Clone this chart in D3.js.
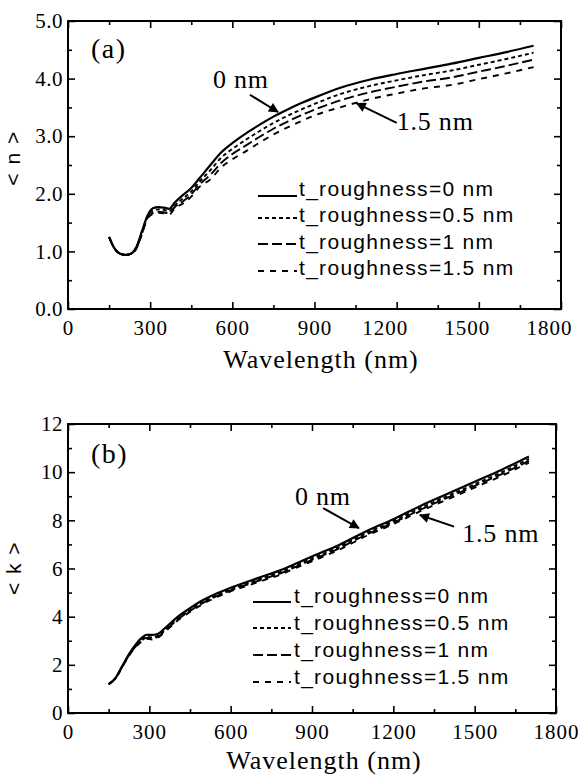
<!DOCTYPE html>
<html>
<head>
<meta charset="utf-8">
<script src="https://cdn.jsdelivr.net/npm/d3@7"></script>
<style>
  body { margin: 0; background: #fff; }
</style>
</head>
<body>
<script>
// data
var roughLabels = ["t_roughness=0 nm", "t_roughness=0.5 nm", "t_roughness=1 nm", "t_roughness=1.5 nm"];
var xTicks = [0, 300, 600, 900, 1200, 1500, 1800];
var nTicks = [0, 1, 2, 3, 4, 5];
var kTicks = [0, 2, 4, 6, 8, 10, 12];

// panel (a) : <n>
var wavelengthN = [150, 170, 190, 210, 230, 250, 270, 290, 310, 330, 350, 370, 390, 420, 450, 480, 520, 560, 600, 650, 700, 750, 800, 850, 900, 1000, 1100, 1200, 1300, 1400, 1500, 1600, 1700];
var nRough0  = [1.25, 1.05, 0.96, 0.94, 0.96, 1.08, 1.35, 1.62, 1.75, 1.77, 1.76, 1.74, 1.85, 1.98, 2.10, 2.27, 2.50, 2.72, 2.88, 3.05, 3.20, 3.34, 3.46, 3.57, 3.67, 3.85, 3.98, 4.08, 4.17, 4.26, 4.36, 4.46, 4.57];
var nRough05 = [1.25, 1.05, 0.96, 0.94, 0.96, 1.07, 1.33, 1.60, 1.71, 1.73, 1.72, 1.70, 1.80, 1.92, 2.04, 2.21, 2.41, 2.63, 2.78, 2.94, 3.09, 3.23, 3.35, 3.46, 3.56, 3.74, 3.87, 3.97, 4.06, 4.14, 4.24, 4.34, 4.45];
var nRough1  = [1.25, 1.05, 0.96, 0.94, 0.96, 1.06, 1.31, 1.58, 1.67, 1.69, 1.68, 1.66, 1.77, 1.87, 1.99, 2.16, 2.33, 2.54, 2.69, 2.84, 2.99, 3.13, 3.25, 3.36, 3.46, 3.63, 3.76, 3.86, 3.95, 4.02, 4.12, 4.22, 4.33];
var nRough15 = [1.25, 1.05, 0.96, 0.94, 0.96, 1.05, 1.30, 1.57, 1.65, 1.67, 1.66, 1.64, 1.75, 1.83, 1.95, 2.12, 2.25, 2.46, 2.60, 2.74, 2.89, 3.03, 3.15, 3.26, 3.36, 3.51, 3.64, 3.74, 3.83, 3.89, 3.99, 4.09, 4.20];

// panel (b) : <k>
var wavelengthK = [150, 175, 200, 225, 250, 275, 290, 310, 330, 360, 400, 450, 500, 550, 600, 700, 800, 850, 900, 1000, 1100, 1200, 1300, 1400, 1500, 1600, 1700];
var kRough0  = [1.20, 1.45, 1.95, 2.45, 2.85, 3.15, 3.25, 3.24, 3.28, 3.55, 3.95, 4.35, 4.70, 4.97, 5.20, 5.60, 6.00, 6.25, 6.50, 6.98, 7.55, 8.05, 8.60, 9.10, 9.60, 10.10, 10.65];
var kRough05 = [1.20, 1.45, 1.93, 2.42, 2.80, 3.08, 3.16, 3.14, 3.20, 3.48, 3.88, 4.28, 4.63, 4.90, 5.13, 5.53, 5.92, 6.17, 6.42, 6.90, 7.47, 7.97, 8.51, 9.01, 9.50, 10.00, 10.55];
var kRough1  = [1.20, 1.44, 1.92, 2.40, 2.77, 3.04, 3.12, 3.09, 3.16, 3.44, 3.84, 4.24, 4.58, 4.86, 5.09, 5.48, 5.87, 6.12, 6.36, 6.84, 7.41, 7.90, 8.44, 8.94, 9.43, 9.92, 10.47];
var kRough15 = [1.20, 1.43, 1.90, 2.38, 2.74, 3.00, 3.08, 3.05, 3.11, 3.40, 3.80, 4.20, 4.54, 4.82, 5.05, 5.43, 5.82, 6.07, 6.30, 6.78, 7.35, 7.84, 8.38, 8.87, 9.36, 9.85, 10.40];

var serif = "'Liberation Serif', 'Times New Roman', serif";
var sans = "'Liberation Sans', Arial, sans-serif";
var dashes = [null, "4,3", "10,4", "6,6"];

var svg = d3.select("body").append("svg")
    .attr("width", 581)
    .attr("height", 776);

svg.append("defs").append("marker")
    .attr("id", "head")
    .attr("viewBox", "0 0 10 10")
    .attr("refX", 9).attr("refY", 5)
    .attr("markerWidth", 6).attr("markerHeight", 5)
    .attr("orient", "auto")
    .append("path").attr("d", "M0,0L10,5L0,10z").attr("fill", "#000");

function drawPanel(p) {
    var x = d3.scaleLinear().domain([0, 1800]).range(p.xRange);
    var y = d3.scaleLinear().domain(p.yDomain).range(p.yRange);
    var g = svg.append("g");
    var top = p.yRange[1], bottom = p.yRange[0], left = p.xRange[0], right = p.xRange[1];

    // curves
    var line = d3.line().curve(d3.curveMonotoneX)
        .x(function(d) { return x(d[0]); })
        .y(function(d) { return y(d[1]); });
    p.series.forEach(function(vals, i) {
        g.append("path")
            .attr("d", line(d3.zip(p.wl, vals)))
            .attr("fill", "none")
            .attr("stroke", "#000")
            .attr("stroke-width", i == 0 ? 2.2 : 1.9)
            .attr("stroke-dasharray", dashes[i]);
    });

    // ticks (inward on all sides)
    var xMinor = d3.range(150, 1800, 300);
    var yMinor = d3.range(p.yDomain[0] + p.minorStep, p.yDomain[1], p.minorStep * 2);
    function styleAxis(a) {
        a.select(".domain").remove();
        a.selectAll("line").attr("stroke-width", 1.6);
    }
    var bx = g.append("g").attr("transform", "translate(0," + bottom + ")")
        .call(d3.axisBottom(x).tickValues(xTicks).tickSize(-7).tickPadding(0).tickFormat(d3.format("d")))
        .call(styleAxis);
    bx.selectAll("text")
        .attr("y", 26).attr("dy", null)
        .attr("dx", function(d) { return d >= 1000 ? p.wideShift : 0; })
        .attr("font-family", serif).attr("font-size", 21)
        .attr("letter-spacing", 1).attr("fill", "#000");
    g.append("g").attr("transform", "translate(0," + bottom + ")")
        .call(d3.axisBottom(x).tickValues(xMinor).tickSize(-4).tickFormat(""))
        .call(styleAxis);
    g.append("g").attr("transform", "translate(0," + top + ")")
        .call(d3.axisTop(x).tickValues(xTicks).tickSize(-7).tickFormat(""))
        .call(styleAxis);
    g.append("g").attr("transform", "translate(0," + top + ")")
        .call(d3.axisTop(x).tickValues(xMinor).tickSize(-4).tickFormat(""))
        .call(styleAxis);
    var ly = g.append("g").attr("transform", "translate(" + left + ",0)")
        .call(d3.axisLeft(y).tickValues(p.yTicks).tickSize(-7).tickPadding(5).tickFormat(d3.format(p.yFormat)))
        .call(styleAxis);
    ly.selectAll("text")
        .attr("font-family", serif).attr("font-size", 21)
        .attr("letter-spacing", 0.5).attr("fill", "#000");
    g.append("g").attr("transform", "translate(" + left + ",0)")
        .call(d3.axisLeft(y).tickValues(yMinor).tickSize(-4).tickFormat(""))
        .call(styleAxis);
    g.append("g").attr("transform", "translate(" + right + ",0)")
        .call(d3.axisRight(y).tickValues(p.yTicks).tickSize(-7).tickFormat(""))
        .call(styleAxis);
    g.append("g").attr("transform", "translate(" + right + ",0)")
        .call(d3.axisRight(y).tickValues(yMinor).tickSize(-4).tickFormat(""))
        .call(styleAxis);

    // frame
    g.append("rect")
        .attr("x", left).attr("y", top)
        .attr("width", right - left).attr("height", bottom - top)
        .attr("fill", "none").attr("stroke", "#000").attr("stroke-width", 2);

    // titles
    g.append("text").text(p.tag)
        .attr("x", p.tagPos[0]).attr("y", p.tagPos[1])
        .attr("font-family", serif).attr("font-size", 28).attr("letter-spacing", 1.5);
    g.append("text").text("Wavelength (nm)")
        .attr("x", p.titlePos[0]).attr("y", p.titlePos[1])
        .attr("text-anchor", "middle")
        .attr("font-family", serif).attr("font-size", 26).attr("letter-spacing", 1);
    g.append("text").text(p.yLabel)
        .attr("transform", "translate(" + p.yLabelPos[0] + "," + p.yLabelPos[1] + ") rotate(-90)")
        .attr("text-anchor", "middle")
        .attr("font-family", sans).attr("font-size", 21).attr("letter-spacing", 1.5);

    // annotations with arrows
    p.notes.forEach(function(n) {
        g.append("text").text(n.text)
            .attr("x", x(n.at[0])).attr("y", y(n.at[1]))
            .attr("font-family", serif).attr("font-size", 26).attr("letter-spacing", 0.8);
        g.append("line")
            .attr("x1", x(n.from[0])).attr("y1", y(n.from[1]))
            .attr("x2", x(n.to[0])).attr("y2", y(n.to[1]))
            .attr("stroke", "#000").attr("stroke-width", 2)
            .attr("marker-end", "url(#head)");
    });

    // legend
    var lg = g.append("g");
    roughLabels.forEach(function(label, i) {
        lg.append("line")
            .attr("x1", p.legendX[0]).attr("x2", p.legendX[1])
            .attr("y1", p.legendLineY[i]).attr("y2", p.legendLineY[i])
            .attr("stroke", "#000").attr("stroke-width", 1.8)
            .attr("stroke-dasharray", dashes[i]);
        lg.append("text").text(label)
            .attr("x", p.legendX[2]).attr("y", p.legendTextY[i])
            .attr("font-family", sans).attr("font-size", 21).attr("letter-spacing", 1.3);
    });
}

drawPanel({
    xRange: [68, 561], yDomain: [0, 5], yRange: [309, 21],
    yTicks: nTicks, yFormat: ".1f", minorStep: 0.5,
    wl: wavelengthN, series: [nRough0, nRough05, nRough1, nRough15],
    wideShift: -12,
    tag: "(a)", tagPos: [91, 58],
    titlePos: [321, 368],
    yLabel: "< n >", yLabelPos: [20, 158],
    notes: [
        { text: "0 nm", at: [529, 3.83], from: [664, 3.72], to: [767, 3.42] },
        { text: "1.5 nm", at: [1200, 3.11], from: [1200, 3.23], to: [1054, 3.57] }
    ],
    legendX: [258, 297, 299],
    legendLineY: [196, 218, 244, 271],
    legendTextY: [196, 222, 249, 275]
});

drawPanel({
    xRange: [68, 556], yDomain: [0, 12], yRange: [713, 424],
    yTicks: kTicks, yFormat: "d", minorStep: 1,
    wl: wavelengthK, series: [kRough0, kRough05, kRough1, kRough15],
    wideShift: 0,
    tag: "(b)", tagPos: [91, 463],
    titlePos: [324, 769],
    yLabel: "< k >", yLabelPos: [21, 568],
    notes: [
        { text: "0 nm", at: [837, 8.64], from: [941, 8.51], to: [1073, 7.68] },
        { text: "1.5 nm", at: [1454, 7.11], from: [1424, 7.74], to: [1298, 8.22] }
    ],
    legendX: [253, 291, 294],
    legendLineY: [602, 628, 655, 682],
    legendTextY: [603, 630, 657, 684]
});
</script>
</body>
</html>
